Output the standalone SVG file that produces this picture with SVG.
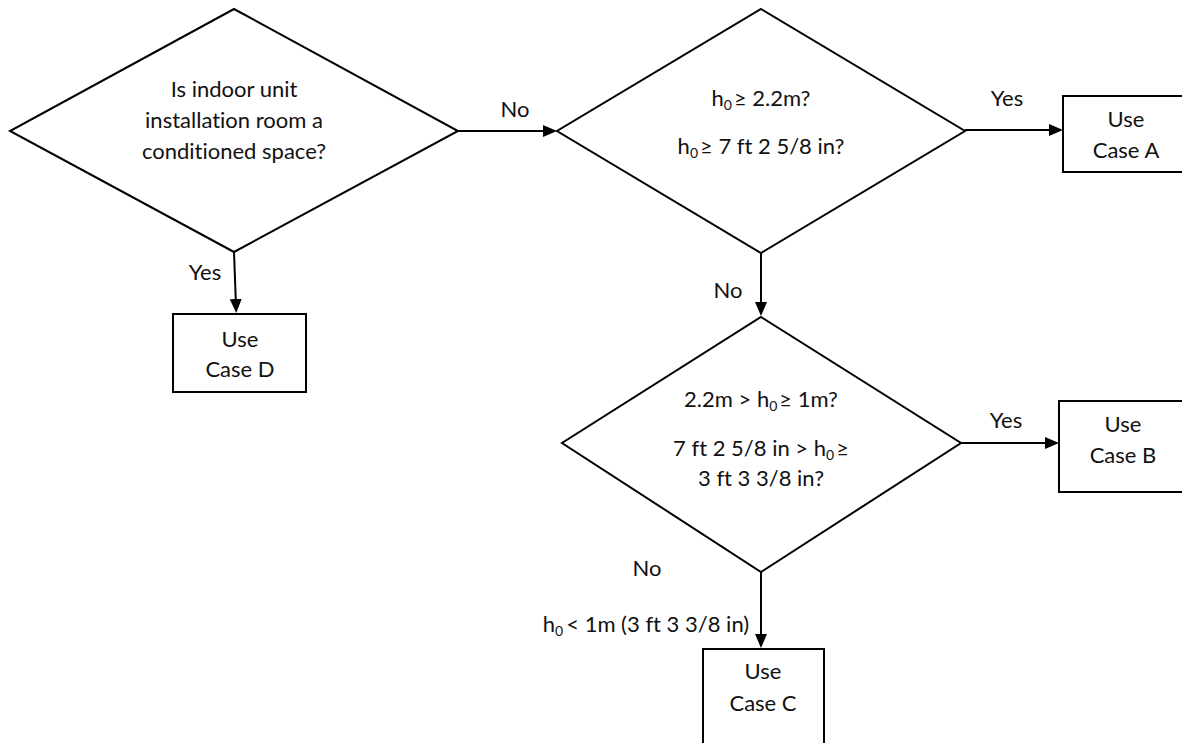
<svg xmlns="http://www.w3.org/2000/svg" width="1182" height="743" viewBox="0 0 1182 743">
<style>
.shape{fill:#fff;stroke:#000;stroke-width:2}
.conn{fill:none;stroke:#000;stroke-width:2}
text{font-family:Lato,"Open Sans","Liberation Sans",sans-serif;font-size:22px;fill:#111;text-anchor:middle;font-variant-ligatures:none}
.sub{font-size:14px}
</style>
<defs>
<marker id="arr" viewBox="0 0 14 12" refX="7" refY="6" markerWidth="14" markerHeight="12" markerUnits="userSpaceOnUse" orient="auto">
<path d="M0,0 L14,6 L0,12 z" fill="#000"/>
</marker>
</defs>
<rect width="1182" height="743" fill="#fff"/>
<g id="connectors">
<line class="conn" x1="458" y1="131" x2="550" y2="131" marker-end="url(#arr)"/>
<line class="conn" x1="965" y1="130" x2="1056" y2="130" marker-end="url(#arr)"/>
<line class="conn" x1="761" y1="253" x2="761" y2="309" marker-end="url(#arr)"/>
<line class="conn" x1="961" y1="443" x2="1052" y2="443" marker-end="url(#arr)"/>
<line class="conn" x1="761" y1="572" x2="761" y2="641" marker-end="url(#arr)"/>
<line class="conn" x1="234" y1="252" x2="236" y2="306" marker-end="url(#arr)"/>
<text x="515" y="117">No</text>
<text x="1007" y="106">Yes</text>
<text x="728" y="298">No</text>
<text x="1006" y="428">Yes</text>
<text x="647" y="576">No</text>
<text x="646" y="632">h<tspan class="sub" dy="4">0</tspan><tspan dy="-4" dx="3">&lt; 1m (3 ft 3 3/8 in)</tspan></text>
<text x="205" y="280">Yes</text>
</g>
<g id="q1">
<polygon class="shape" points="234,9 458,131 234,252 10,131"/>
<text x="234" y="97">Is indoor unit</text>
<text x="234" y="128">installation room a</text>
<text x="234" y="159">conditioned space?</text>
</g>
<g id="q2">
<polygon class="shape" points="761,9 965,131 761,253 557,131"/>
<text x="761" y="106">h<tspan class="sub" dy="4">0</tspan><tspan dy="-4" dx="2">≥ 2.2m?</tspan></text>
<text x="761" y="154">h<tspan class="sub" dy="4">0</tspan><tspan dy="-4" dx="2">≥ 7 ft 2 5/8 in?</tspan></text>
</g>
<g id="q3">
<polygon class="shape" points="761,317 961,443 761,572 562,443"/>
<text x="761" y="407">2.2m &gt; h<tspan class="sub" dy="4">0</tspan><tspan dy="-4" dx="2">≥ 1m?</tspan></text>
<text x="761" y="456">7 ft 2 5/8 in &gt; h<tspan class="sub" dy="4">0</tspan><tspan dy="-4" dx="2">≥</tspan></text>
<text x="761" y="486">3 ft 3 3/8 in?</text>
</g>
<g id="caseA">
<rect class="shape" x="1063" y="96" width="130" height="76"/>
<text x="1126" y="127">Use</text>
<text x="1126" y="158">Case A</text>
</g>
<g id="caseB">
<rect class="shape" x="1059" y="401" width="130" height="91"/>
<text x="1123" y="432">Use</text>
<text x="1123" y="463">Case B</text>
</g>
<g id="caseC">
<rect class="shape" x="703" y="649" width="121" height="110"/>
<text x="763" y="679">Use</text>
<text x="763" y="711">Case C</text>
</g>
<g id="caseD">
<rect class="shape" x="173" y="314" width="133" height="78"/>
<text x="240" y="347">Use</text>
<text x="240" y="377">Case D</text>
</g>
</svg>
